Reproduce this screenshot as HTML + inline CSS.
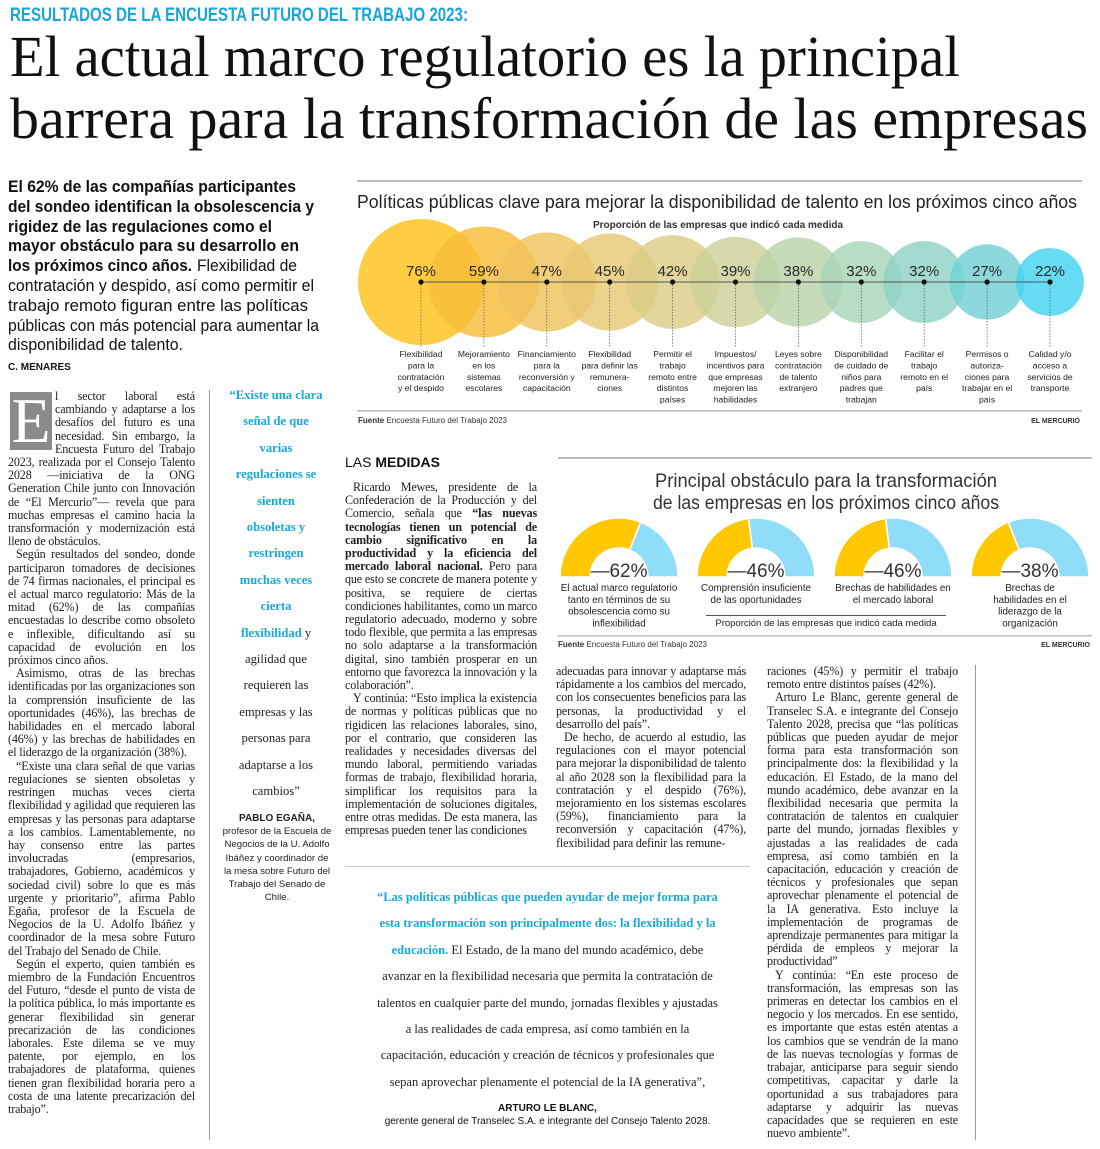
<!DOCTYPE html>
<html lang="es"><head><meta charset="utf-8">
<style>
*{margin:0;padding:0;box-sizing:border-box}
body{width:1100px;height:1149px;background:#fff;position:relative;overflow:hidden;font-family:"Liberation Serif",serif;color:#222}
.abs{position:absolute}
.body{position:absolute;font-family:"Liberation Serif",serif;font-size:12.1px;line-height:13.2px;text-align:justify;letter-spacing:-0.15px;color:#1e1e1e;overflow:hidden}
.body p{text-indent:8px}
.quote{position:absolute;font-family:"Liberation Serif",serif;font-size:12.5px;line-height:26.4px;text-align:center;color:#222}
.cy{color:#15a9dc;font-weight:bold}
.vr{position:absolute;width:1px;background:#999}
.sans{font-family:"Liberation Sans",sans-serif}
</style></head><body>
<svg class="abs" style="left:0;top:0" width="1100" height="370">
<text x="10" y="21" font-family="Liberation Sans Narrow, Liberation Sans, sans-serif" font-weight="bold" font-size="19" fill="#17a6db" textLength="458" lengthAdjust="spacingAndGlyphs">RESULTADOS DE LA ENCUESTA FUTURO DEL TRABAJO 2023:</text>
<text x="10" y="76" font-family="Liberation Serif, serif" font-size="58" fill="#111" textLength="950" lengthAdjust="spacingAndGlyphs">El actual marco regulatorio es la principal</text>
<text x="10" y="138" font-family="Liberation Serif, serif" font-size="58" fill="#111" textLength="1078" lengthAdjust="spacingAndGlyphs">barrera para la transformación de las empresas</text>
<g font-family="Liberation Sans Narrow, Liberation Sans, sans-serif" font-size="16.5" fill="#111">
<text x="8" y="192" font-weight="bold" textLength="288" lengthAdjust="spacingAndGlyphs">El 62% de las compañías participantes</text>
<text x="8" y="212" font-weight="bold" textLength="306" lengthAdjust="spacingAndGlyphs">del sondeo identifican la obsolescencia y</text>
<text x="8" y="232" font-weight="bold" textLength="264" lengthAdjust="spacingAndGlyphs">rigidez de las regulaciones como el</text>
<text x="8" y="251" font-weight="bold" textLength="291" lengthAdjust="spacingAndGlyphs">mayor obstáculo para su desarrollo en</text>
<text x="8" y="271" font-weight="bold" textLength="184" lengthAdjust="spacingAndGlyphs">los próximos cinco años.</text>
<text x="197" y="271" textLength="100" lengthAdjust="spacingAndGlyphs">Flexibilidad de</text>
<text x="8" y="291" textLength="306" lengthAdjust="spacingAndGlyphs">contratación y despido, así como permitir el</text>
<text x="8" y="311" textLength="300" lengthAdjust="spacingAndGlyphs">trabajo remoto figuran entre las políticas</text>
<text x="8" y="331" textLength="311" lengthAdjust="spacingAndGlyphs">públicas con más potencial para aumentar la</text>
<text x="8" y="350" textLength="175" lengthAdjust="spacingAndGlyphs">disponibilidad de talento.</text>
</g>
<text x="8" y="370" font-family="Liberation Sans, sans-serif" font-weight="bold" font-size="10" fill="#111">C. MENARES</text>
</svg>

<!-- Chart 1 -->
<svg id="chart1" class="abs" style="left:0;top:0" width="1100" height="430">
<rect x="357" y="180" width="725" height="2" fill="#bbb"/>
<text x="357" y="208" font-family="Liberation Sans, sans-serif" font-size="18" fill="#222" textLength="720" lengthAdjust="spacingAndGlyphs">Políticas públicas clave para mejorar la disponibilidad de talento en los próximos cinco años</text>
<text x="718" y="228" text-anchor="middle" font-family="Liberation Sans Narrow, Liberation Sans, sans-serif" font-weight="bold" font-size="10" fill="#333">Proporción de las empresas que indicó cada medida</text>
<g id="bubbles"></g>
<rect x="357" y="410" width="725" height="1.5" fill="#bbb"/>
<text x="358" y="423" font-family="Liberation Sans, sans-serif" font-size="8" fill="#333"><tspan font-weight="bold">Fuente</tspan> Encuesta Futuro del Trabajo 2023</text>
<text x="1080" y="423" text-anchor="end" font-family="Liberation Sans, sans-serif" font-weight="bold" font-size="7" fill="#333">EL MERCURIO</text>
</svg>

<!-- Chart 2 -->
<svg id="chart2" class="abs" style="left:0;top:0" width="1100" height="660">
<rect x="558" y="457" width="534" height="2" fill="#bbb"/>
<text x="826" y="487" text-anchor="middle" font-family="Liberation Sans, sans-serif" font-size="19" fill="#333" textLength="342" lengthAdjust="spacingAndGlyphs">Principal obstáculo para la transformación</text>
<text x="826" y="509" text-anchor="middle" font-family="Liberation Sans, sans-serif" font-size="19" fill="#333" textLength="346" lengthAdjust="spacingAndGlyphs">de las empresas en los próximos cinco años</text>
<g id="gauges"></g>
<rect x="706" y="615" width="240" height="1" fill="#555"/>
<text x="826" y="626" text-anchor="middle" font-family="Liberation Sans Narrow, Liberation Sans, sans-serif" font-size="9.5" fill="#222">Proporción de las empresas que indicó cada medida</text>
<rect x="558" y="635" width="534" height="1.5" fill="#bbb"/>
<text x="558" y="647" font-family="Liberation Sans, sans-serif" font-size="8" fill="#333"><tspan font-weight="bold">Fuente</tspan> Encuesta Futuro del Trabajo 2023</text>
<text x="1090" y="647" text-anchor="end" font-family="Liberation Sans, sans-serif" font-weight="bold" font-size="7" fill="#333">EL MERCURIO</text>
</svg>

<!-- Body col 1 -->
<div class="abs" style="left:10px;top:392px;width:42px;height:58px;background:#8a8a8a;color:#fff;font-size:64px;line-height:58px;text-align:center;font-family:'Liberation Serif',serif">E</div>
<div class="body" style="left:8px;top:390px;width:187px;height:752px">
<div style="float:left;width:47px;height:60px"></div>
<p style="text-indent:0">l sector laboral está cambiando y adaptarse a los desafíos del futuro es una necesidad. Sin embargo, la Encuesta Futuro del Trabajo 2023, realizada por el Consejo Talento 2028 —iniciativa de la ONG Generation Chile junto con Innovación de “El Mercurio”— revela que para muchas empresas el camino hacia la transformación y modernización está lleno de obstáculos.</p>
<p>Según resultados del sondeo, donde participaron tomadores de decisiones de 74 firmas nacionales, el principal es el actual marco regulatorio: Más de la mitad (62%) de las compañías encuestadas lo describe como obsoleto e inflexible, dificultando así su capacidad de evolución en los próximos cinco años.</p>
<p>Asimismo, otras de las brechas identificadas por las organizaciones son la comprensión insuficiente de las oportunidades (46%), las brechas de habilidades en el mercado laboral (46%) y las brechas de habilidades en el liderazgo de la organización (38%).</p>
<p>“Existe una clara señal de que varias regulaciones se sienten obsoletas y restringen muchas veces cierta flexibilidad y agilidad que requieren las empresas y las personas para adaptarse a los cambios. Lamentablemente, no hay consenso entre las partes involucradas (empresarios, trabajadores, Gobierno, académicos y sociedad civil) sobre lo que es más urgente y prioritario”, afirma Pablo Egaña, profesor de la Escuela de Negocios de la U. Adolfo Ibáñez y coordinador de la mesa sobre Futuro del Trabajo del Senado de Chile.</p>
<p>Según el experto, quien también es miembro de la Fundación Encuentros del Futuro, “desde el punto de vista de la política pública, lo más importante es generar flexibilidad sin generar precarización de las condiciones laborales. Este dilema se ve muy patente, por ejemplo, en los trabajadores de plataforma, quienes tienen gran flexibilidad horaria pero a costa de una latente precarización del trabajo”.</p>
</div>
<div class="vr" style="left:209px;top:390px;height:750px"></div>

<!-- Pull quote col 2 -->
<div class="quote" style="left:218px;top:382px;width:116px;font-size:12.6px">
<span class="cy">“Existe una clara<br>señal de que<br>varias<br>regulaciones se<br>sienten<br>obsoletas y<br>restringen<br>muchas veces<br>cierta<br>flexibilidad</span> y<br>agilidad que<br>requieren las<br>empresas y las<br>personas para<br>adaptarse a los<br>cambios”</div>
<div class="abs sans" style="left:222px;top:812px;width:110px;text-align:center;font-size:10px;line-height:13.2px">
<b>PABLO EGAÑA,</b><br><span style="font-size:9.6px;line-height:13.2px">profesor de la Escuela de Negocios de la U. Adolfo Ibáñez y coordinador de la mesa sobre Futuro del Trabajo del Senado de Chile.</span></div>

<!-- Las medidas -->
<div class="abs sans" style="left:345px;top:454px;font-size:14px;color:#111">LAS <b>MEDIDAS</b></div>
<div class="body" style="left:345px;top:481px;width:192px;height:372px">
<p>Ricardo Mewes, presidente de la Confederación de la Producción y del Comercio, señala que <b>“las nuevas tecnologías tienen un potencial de cambio significativo en la productividad y la eficiencia del mercado laboral nacional.</b> Pero para que esto se concrete de manera potente y positiva, se requiere de ciertas condiciones habilitantes, como un marco regulatorio adecuado, moderno y sobre todo flexible, que permita a las empresas no solo adaptarse a la transformación digital, sino también prosperar en un entorno que favorezca la innovación y la colaboración”.</p>
<p>Y continúa: “Esto implica la existencia de normas y políticas públicas que no rigidicen las relaciones laborales, sino, por el contrario, que consideren las realidades y necesidades diversas del mundo laboral, permitiendo variadas formas de trabajo, flexibilidad horaria, simplificar los requisitos para la implementación de soluciones digitales, entre otras medidas. De esta manera, las empresas pueden tener las condiciones</p>
</div>
<div class="body" style="left:556px;top:665px;width:190px;height:188px">
<p style="text-indent:0">adecuadas para innovar y adaptarse más rápidamente a los cambios del mercado, con los consecuentes beneficios para las personas, la productividad y el desarrollo del país”.</p>
<p>De hecho, de acuerdo al estudio, las regulaciones con el mayor potencial para mejorar la disponibilidad de talento al año 2028 son la flexibilidad para la contratación y el despido (76%), mejoramiento en los sistemas escolares (59%), financiamiento para la reconversión y capacitación (47%), flexibilidad para definir las remune-</p>
</div>
<div class="body" style="left:767px;top:665px;width:191px;height:478px">
<p style="text-indent:0">raciones (45%) y permitir el trabajo remoto entre distintos países (42%).</p>
<p>Arturo Le Blanc, gerente general de Transelec S.A. e integrante del Consejo Talento 2028, precisa que “las políticas públicas que pueden ayudar de mejor forma para esta transformación son principalmente dos: la flexibilidad y la educación. El Estado, de la mano del mundo académico, debe avanzar en la flexibilidad necesaria que permita la contratación de talentos en cualquier parte del mundo, jornadas flexibles y ajustadas a las realidades de cada empresa, así como también en la capacitación, educación y creación de técnicos y profesionales que sepan aprovechar plenamente el potencial de la IA generativa. Esto incluye la implementación de programas de aprendizaje permanentes para mitigar la pérdida de empleos y mejorar la productividad”</p>
<p>Y continúa: “En este proceso de transformación, las empresas son las primeras en detectar los cambios en el negocio y los mercados. En ese sentido, es importante que estas estén atentas a los cambios que se vendrán de la mano de las nuevas tecnologías y formas de trabajar, anticiparse para seguir siendo competitivas, capacitar y darle la oportunidad a sus trabajadores para adaptarse y adquirir las nuevas capacidades que se requieren en este nuevo ambiente”.</p>
</div>
<div class="vr" style="left:975px;top:665px;height:475px"></div>

<!-- Bottom quote -->
<div class="abs" style="left:345px;top:866px;width:405px;height:1px;background:#ccc"></div>
<div class="quote" style="left:340px;top:884px;width:415px">
<span class="cy">“Las políticas públicas que pueden ayudar de mejor forma para</span><br><span class="cy">esta transformación son principalmente dos: la flexibilidad y la</span><br><span class="cy">educación.</span> El Estado, de la mano del mundo académico, debe<br>avanzar en la flexibilidad necesaria que permita la contratación de<br>talentos en cualquier parte del mundo, jornadas flexibles y ajustadas<br>a las realidades de cada empresa, así como también en la<br>capacitación, educación y creación de técnicos y profesionales que<br>sepan aprovechar plenamente el potencial de la IA generativa”,</div>
<div class="abs sans" style="left:340px;top:1102px;width:415px;text-align:center;font-size:10px;line-height:13px;color:#111"><b>ARTURO LE BLANC,</b><br>gerente general de Transelec S.A. e integrante del Consejo Talento 2028.</div>

<script>
const policyValues=[76,59,47,45,42,39,38,32,32,27,22];
const policyPercentLabels=["76%","59%","47%","45%","42%","39%","38%","32%","32%","27%","22%"];
const policyLabels=[
["Flexibilidad","para la","contratación","y el despido"],
["Mejoramiento","en los","sistemas","escolares"],
["Financiamiento","para la","reconversión y","capacitación"],
["Flexibilidad","para definir las","remunera-","ciones"],
["Permitir el","trabajo","remoto entre","distintos","países"],
["Impuestos/","incentivos para","que empresas","mejoren las","habilidades"],
["Leyes sobre","contratación","de talento","extranjero"],
["Disponibilidad","de cuidado de","niños para","padres que","trabajan"],
["Facilitar el","trabajo","remoto en el","país"],
["Permisos o","autoriza-","ciones para","trabajar en el","país"],
["Calidad y/o","acceso a","servicios de","transporte"]];
const policyColors=["#FFC21A","#F8BD3A","#EFC35E","#E6C874","#DCCD86","#CCD199","#BBD3A8","#A7D5B8","#8FD3C6","#72D1D6","#45D2F2"];

const obstacleValues=[62,46,46,38];
const obstacleLabels=[
["El actual marco regulatorio","tanto en términos de su","obsolescencia como su","inflexibilidad"],
["Comprensión insuficiente","de las oportunidades"],
["Brechas de habilidades en","el mercado laboral"],
["Brechas de","habilidades en el","liderazgo de la","organización"]];

const NS="http://www.w3.org/2000/svg";
function mk(tag,attrs,parent){const e=document.createElementNS(NS,tag);for(const k in attrs)e.setAttribute(k,attrs[k]);parent.appendChild(e);return e;}

const x1=i=>421+i*62.9;
const r1=v=>7.23*Math.sqrt(v);
const cy1=282;
const gB=document.getElementById('bubbles');
policyValues.forEach((v,i)=>{
  const c=mk('circle',{cx:x1(i),cy:cy1,r:r1(v),fill:policyColors[i],'fill-opacity':0.82},gB);
  
  
});
const axis=mk('line',{x1:x1(0),x2:x1(policyValues.length-1),y1:cy1,y2:cy1,stroke:'#555','stroke-width':1},gB);


policyValues.forEach((v,i)=>{
  const x=x1(i);
  mk('line',{x1:x,x2:x,y1:cy1+3,y2:347,stroke:'#666','stroke-width':0.8,'stroke-dasharray':'1.5,1.5'},gB);
  const d=mk('circle',{cx:x,cy:cy1,r:2.6,fill:'#111'},gB);
  
  
  const t=mk('text',{x:x,y:cy1-6,'text-anchor':'middle','font-family':'Liberation Sans Narrow, Liberation Sans, sans-serif','font-size':15,fill:'#2a2a2a'},gB);
  t.textContent=policyPercentLabels[i];
  
  
  const lab=mk('text',{'text-anchor':'middle','font-family':'Liberation Sans Narrow, Liberation Sans, sans-serif','font-size':8.6,fill:'#222'},gB);
  
  
  policyLabels[i].forEach((s,j)=>{const ts=mk('tspan',{x:x,y:357+j*11.4},lab);ts.textContent=s;});
});

const gx=i=>619+i*137;
const gcy=577, R=59, RI=29;
const gG=document.getElementById('gauges');
function pt(cx,r,th){return [cx+r*Math.cos(th),gcy-r*Math.sin(th)];}
function band(cx,a0,a1){
  const p1=pt(cx,R,a0),p2=pt(cx,R,a1),p3=pt(cx,RI,a1),p4=pt(cx,RI,a0);
  return `M${p1[0]},${p1[1]} A${R},${R} 0 0 1 ${p2[0]},${p2[1]} L${p3[0]},${p3[1]} A${RI},${RI} 0 0 0 ${p4[0]},${p4[1]} Z`;
}
obstacleValues.forEach((v,i)=>{
  const cx=gx(i), split=Math.PI*(1-v/100);
  const y=mk('path',{d:band(cx,Math.PI,split),fill:'#FFC800',stroke:'#fff','stroke-width':1.5},gG);
  
  
  const b=mk('path',{d:band(cx,split,0),fill:'#8FDDF8',stroke:'#fff','stroke-width':1.5},gG);
  
  
  const t=mk('text',{x:cx,y:gcy,'text-anchor':'middle','font-family':'Liberation Sans, sans-serif','font-size':19,fill:'#333'},gG);
  t.textContent='—'+v+'%';
  
  
  const lab=mk('text',{'text-anchor':'middle','font-family':'Liberation Sans Narrow, Liberation Sans, sans-serif','font-size':9.8,fill:'#222'},gG);
  
  
  obstacleLabels[i].forEach((s,j)=>{const ts=mk('tspan',{x:cx,y:591+j*11.8},lab);ts.textContent=s;});
});
</script>
</body></html>
